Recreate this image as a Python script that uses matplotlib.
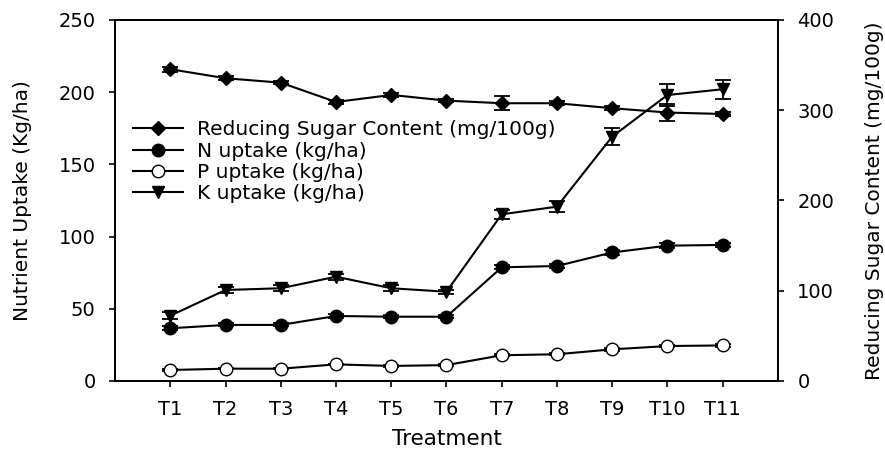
import numpy as np
import matplotlib.pyplot as plt

plt.rcParams['font.family'] = ['DejaVu Sans']

treatments = ['T1', 'T2', 'T3', 'T4', 'T5', 'T6', 'T7', 'T8', 'T9', 'T10', 'T11']

# nutrient uptake (kg/ha), left axis
n_uptake = [36.5, 38.8, 38.8, 45.0, 44.5, 44.5, 78.7, 79.6, 89.0, 93.7, 94.2]
n_err = [1.5, 1.0, 1.0, 1.2, 1.0, 1.0, 1.5, 1.5, 2.0, 1.5, 1.5]
p_uptake = [7.6, 8.5, 8.5, 11.5, 10.4, 11.0, 17.8, 18.5, 21.9, 24.2, 24.6]
p_err = [0.5, 0.5, 0.5, 0.5, 0.5, 0.5, 0.8, 0.8, 0.8, 0.8, 0.8]
k_uptake = [45.2, 63.0, 64.2, 72.2, 64.2, 61.8, 115.4, 120.7, 169.2, 198.0, 202.0]
k_err = [2.5, 2.0, 2.0, 2.0, 2.0, 1.5, 3.0, 4.0, 6.0, 7.5, 6.5]

# reducing sugar content (mg/100g), right axis
sugar = [345.4, 335.4, 330.5, 309.1, 316.9, 310.6, 307.7, 307.7, 302.2, 297.4, 295.8]
sugar_err = [3.0, 2.0, 2.0, 2.0, 2.0, 2.0, 7.5, 2.0, 2.0, 9.0, 2.0]

x = np.arange(1, len(treatments) + 1)

fig = plt.figure(figsize=(8.85, 4.53), dpi=100)
ax = fig.add_axes([0.130, 0.159, 0.749, 0.797])
ax2 = ax.twinx()

eb = dict(color='black', lw=1.5, capsize=5.5, elinewidth=1.3, capthick=1.3)
hn = ax.errorbar(x, n_uptake, yerr=n_err, marker='o', ms=9, mfc='black', mec='black', **eb)
hp = ax.errorbar(x, p_uptake, yerr=p_err, marker='o', ms=9, mfc='white', mec='black', **eb)
hk = ax.errorbar(x, k_uptake, yerr=k_err, marker='v', ms=9, mfc='black', mec='black', **eb)
hs = ax2.errorbar(x, sugar, yerr=sugar_err, marker='D', ms=7.5, mfc='black', mec='black', **eb)

ax.set_xlim(0, 12)
ax.set_ylim(0, 250)
ax2.set_ylim(0, 400)
ax.set_xticks(x)
ax.set_xticklabels(treatments)
ax.set_yticks(np.arange(0, 251, 50))
ax2.set_yticks(np.arange(0, 401, 100))

for a in (ax, ax2):
    a.tick_params(direction='out', length=4, width=1.2, labelsize=14, pad=10)
    for s in a.spines.values():
        s.set_linewidth(1.3)

ax.set_ylabel('Nutrient Uptake (Kg/ha)', fontsize=14.5, labelpad=19)
ax2.set_ylabel('Reducing Sugar Content (mg/100g)', fontsize=14.5, labelpad=22)
ax.set_xlabel('Treatment', fontsize=15.5, labelpad=7)

handles = [hs[0], hn[0], hp[0], hk[0]]
labels = ['Reducing Sugar Content (mg/100g)', 'N uptake (kg/ha)',
          'P uptake (kg/ha)', 'K uptake (kg/ha)']
ax2.legend(handles, labels, loc='upper left', bbox_to_anchor=(0.139, 0.757),
           bbox_transform=fig.transFigure, frameon=False, fontsize=14.5,
           handlelength=2.5, handletextpad=0.65, labelspacing=0.12, borderpad=0)

fig.savefig('out.png', dpi=100, facecolor='white')
